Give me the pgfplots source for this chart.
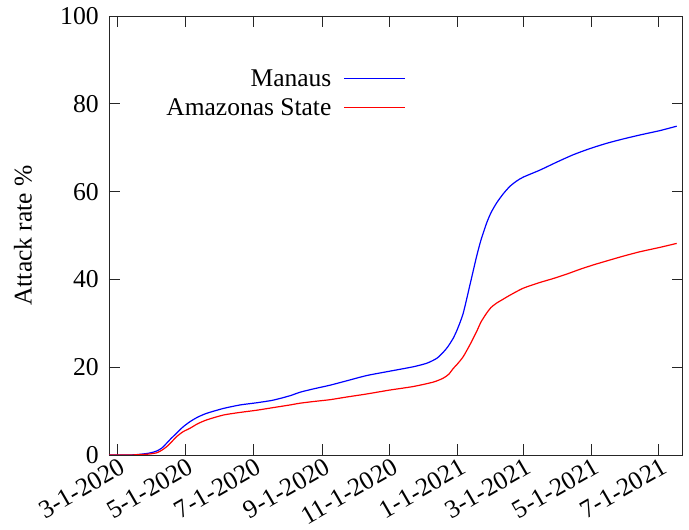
\documentclass[border=0pt]{standalone}
\usepackage{pgfplots}
\pgfplotsset{compat=1.18}
\usepackage{fontspec}
\setmainfont{Liberation Serif}
\begin{document}
\begin{tikzpicture}
\path[use as bounding box] (0,0) rectangle (689pt,530pt);
\begin{axis}[
  at={(109pt,75pt)}, anchor=south west,
  width=573.7pt, height=439pt, scale only axis,
  xmin=-7.6, xmax=508.4, ymin=0, ymax=100,
  xtick={0,61,122,184,245,306,365,426,487},
  xticklabels={3-1-2020,5-1-2020,7-1-2020,9-1-2020,11-1-2020,1-1-2021,3-1-2021,5-1-2021,7-1-2021},
  ytick={0,20,40,60,80,100},
  tick align=inside,
  major tick length=11pt,
  axis line style={line width=0.9pt, black!85},
  every tick/.style={line width=0.9pt, black!85},
  /pgf/number format/assume math mode=true,
  tick label style={font=\fontsize{25.7}{31}\selectfont},
  xticklabel style={xshift=1pt, yshift=-2pt, rotate=30, anchor=north east, inner sep=0pt},
  yticklabel style={inner sep=0pt, xshift=-10pt},
  ylabel={Attack rate \%},
  every axis y label/.style={at={(axis description cs:-0.150,0.5)}, rotate=90, anchor=center, font=\fontsize{25.5}{31}\selectfont},
  legend plot pos=right,
  legend cell align=right,
  legend image code/.code={\draw[#1, line width=1.3pt] (0pt,0pt) -- (61pt,0pt);},
  legend style={draw=none, fill=none, font=\fontsize{25.5}{31}\selectfont,
    at={(0.5175,0.883)}, anchor=north east, inner sep=0pt, row sep=6.5pt,
    nodes={inner sep=2pt}, column sep=10pt},
]
\addplot[color=blue, line width=1.2pt, smooth, tension=0.4] coordinates {
(-7.6,0) (10,0) (18,0.1) (25,0.3) (30,0.5) (35.3,0.9) (40,1.6) (44.3,2.7) (48,3.7) (53.3,5.0) (59,6.4) (65.3,7.6) (72,8.6) (80.3,9.5) (95.2,10.6) (110.3,11.4) (125.3,11.9) (140.2,12.5) (155.2,13.5) (164.2,14.3) (177,15.1) (191.2,15.9) (206.2,16.9) (224.2,18.1) (245.1,19.1) (266.1,20.1) (278.2,20.9) (287.1,22.0) (293,23.4) (297,24.6) (302,26.6) (306,28.8) (311,32.3) (317,38.7) (323,45.2) (327,49.0) (332,52.8) (336,55.2) (341,57.4) (347,59.5) (353,61.2) (359,62.4) (365,63.3) (380,64.9) (395,66.7) (410,68.4) (425,69.8) (440,71.0) (455,72.0) (470,72.9) (488,73.9) (503,74.9)
};
\addlegendentry{Manaus}
\addplot[color=red, line width=1.2pt, smooth, tension=0.4] coordinates {
(-7.6,0) (12,0) (20,0.1) (28,0.2) (35.3,0.5) (40,1.1) (44.3,1.9) (48,2.8) (53.3,4.2) (59,5.3) (65.3,6.1) (72,7.1) (80.3,8.0) (95.2,9.1) (110.3,9.7) (125.3,10.2) (140.2,10.8) (155.2,11.4) (164.2,11.8) (177,12.2) (191.2,12.6) (206,13.2) (224.2,13.9) (245.1,14.8) (266.1,15.6) (284,16.6) (293,17.5) (298,18.4) (302,19.7) (306,20.8) (311,22.4) (317,25.1) (323,28.1) (327,30.3) (332,32.3) (336,33.6) (341,34.6) (347,35.5) (353,36.4) (365,38.0) (380,39.3) (392,40.2) (404,41.2) (416,42.3) (428,43.3) (440,44.2) (455,45.3) (470,46.3) (488,47.3) (503,48.2)
};
\addlegendentry{Amazonas State}
\end{axis}
\end{tikzpicture}
\end{document}
